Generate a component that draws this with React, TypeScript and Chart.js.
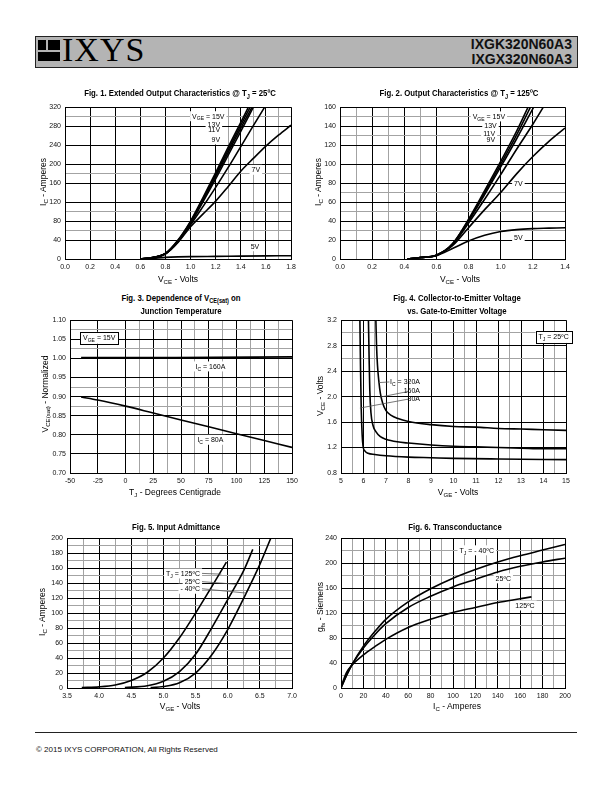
import React, { useEffect, useRef } from "react";
import { Chart, registerables } from "chart.js";

Chart.register(...registerables);

const FONT = '"Liberation Sans", Arial, Helvetica, sans-serif';

// ---------------- Fig. 1 : Extended Output Characteristics @ 25C ----------------
const fig1XTicks = [0, 0.2, 0.4, 0.6, 0.8, 1.0, 1.2, 1.4, 1.6, 1.8];
const fig1XMinor = [1.3, 1.5, 1.7];
const fig1YTicks = [0, 40, 80, 120, 160, 200, 240, 280, 320];
const fig1YMinor = [60, 100, 180, 300];
const fig1Vce15 = [0.6, 0.7, 0.8, 0.9, 1.0, 1.1, 1.2, 1.3, 1.4, 1.46];
const fig1Ic15 = [0, 3, 12, 40, 80, 130, 182, 236, 288, 320];
const fig1Vce13 = [0.6, 0.7, 0.8, 0.9, 1.0, 1.1, 1.2, 1.3, 1.4, 1.475];
const fig1Ic13 = [0, 3, 12, 39, 78, 127, 178, 230, 282, 320];
const fig1Vce11 = [0.6, 0.7, 0.8, 0.9, 1.0, 1.1, 1.2, 1.3, 1.4, 1.49];
const fig1Ic11 = [0, 3, 11, 38, 77, 124, 174, 225, 276, 320];
const fig1Vce10 = [0.6, 0.7, 0.8, 0.9, 1.0, 1.1, 1.2, 1.3, 1.4, 1.5];
const fig1Ic10 = [0, 3, 11, 37, 75, 121, 169, 219, 269, 320];
const fig1Vce9 = [0.6, 0.7, 0.8, 0.9, 1.0, 1.1, 1.2, 1.3, 1.4, 1.5, 1.59];
const fig1Ic9 = [0, 3, 11, 36, 72, 111, 151, 193, 237, 281, 320];
const fig1Vce7 = [0.6, 0.7, 0.8, 0.9, 1.0, 1.1, 1.2, 1.3, 1.4, 1.5, 1.6, 1.7, 1.8];
const fig1Ic7 = [0, 3, 11, 35, 68, 95, 122, 153, 185, 212, 238, 261, 282];
const fig1Vce5 = [0.6, 0.7, 0.8, 0.9, 1.0, 1.2, 1.4, 1.6, 1.8];
const fig1Ic5 = [0, 1.5, 3.5, 4.5, 5, 5.5, 6, 6.5, 7];

// ---------------- Fig. 2 : Output Characteristics @ 125C ----------------
const fig2XTicks = [0, 0.2, 0.4, 0.6, 0.8, 1.0, 1.2, 1.4];
const fig2XMinor = [0.1, 0.3, 0.5];
const fig2YTicks = [0, 20, 40, 60, 80, 100, 120, 140, 160];
const fig2YMinor = [30, 50, 70, 130, 150];
const fig2Vce15 = [0.42, 0.5, 0.6, 0.7, 0.8, 0.9, 1.0, 1.1, 1.17];
const fig2Ic15 = [0, 1.5, 4, 16, 42, 72, 103, 135, 160];
const fig2Vce13 = [0.42, 0.5, 0.6, 0.7, 0.8, 0.9, 1.0, 1.1, 1.185];
const fig2Ic13 = [0, 1.5, 4, 16, 41, 70, 100, 131, 160];
const fig2Vce11 = [0.42, 0.5, 0.6, 0.7, 0.8, 0.9, 1.0, 1.1, 1.205];
const fig2Ic11 = [0, 1.5, 4, 15, 40, 68, 97, 127, 160];
const fig2Vce9 = [0.42, 0.5, 0.6, 0.7, 0.8, 0.9, 1.0, 1.1, 1.2, 1.265];
const fig2Ic9 = [0, 1.5, 4, 15, 38, 63, 89, 116, 142, 160];
const fig2Vce7 = [0.42, 0.5, 0.6, 0.7, 0.8, 0.9, 1.0, 1.1, 1.2, 1.3, 1.4];
const fig2Ic7 = [0, 1.5, 4, 14, 33, 52, 70, 90, 108, 124, 138];
const fig2Vce5 = [0.42, 0.5, 0.6, 0.7, 0.8, 0.9, 1.0, 1.1, 1.2, 1.3, 1.4];
const fig2Ic5 = [0, 1.5, 3.5, 11, 19, 25, 29, 31, 32, 32.5, 33];

// ---------------- Fig. 3 : VCE(sat) vs junction temperature ----------------
const fig3XTicks = [-50, -25, 0, 25, 50, 75, 100, 125, 150];
const fig3XMinor = [12.5, 37.5, 62.5, 87.5, 112.5, 137.5];
const fig3YTicks = [0.7, 0.75, 0.8, 0.85, 0.9, 0.95, 1.0, 1.05, 1.1];
const fig3YMinor = [0.875, 0.925, 1.025, 1.075];
const fig3Tj160 = [-40, 45, 150];
const fig3Norm160 = [1.002, 1.002, 1.004];
const fig3Tj80 = [-40, -25, 0, 25, 50, 75, 100, 125, 150];
const fig3Norm80 = [0.899, 0.891, 0.875, 0.857, 0.839, 0.821, 0.803, 0.785, 0.767];

// ---------------- Fig. 4 : VCE vs VGE ----------------
const fig4XTicks = [5, 6, 7, 8, 9, 10, 11, 12, 13, 14, 15];
const fig4XMinor = [5.5, 6.5, 7.5, 10.5, 12.5, 14.5];
const fig4YTicks = [0.8, 1.2, 1.6, 2.0, 2.4, 2.8, 3.2];
const fig4YMinor = [2.6, 3.0];
const fig4Vge320 = [6.55, 6.58, 6.62, 6.68, 6.75, 6.85, 7.0, 7.25, 7.5, 8, 9, 10, 11, 12, 13, 14, 15];
const fig4Vce320 = [3.2, 2.8, 2.5, 2.25, 2.05, 1.9, 1.78, 1.7, 1.66, 1.61, 1.56, 1.53, 1.52, 1.5, 1.49, 1.48, 1.47];
const fig4Vge160 = [6.22, 6.25, 6.28, 6.33, 6.42, 6.55, 6.75, 7.0, 7.5, 8, 9, 10, 11, 12, 13, 14, 15];
const fig4Vce160 = [3.2, 2.6, 2.1, 1.75, 1.55, 1.45, 1.37, 1.33, 1.29, 1.27, 1.24, 1.22, 1.21, 1.2, 1.19, 1.18, 1.18];
const fig4Vge80 = [5.84, 5.87, 5.9, 5.94, 5.98, 6.05, 6.2, 6.5, 7, 8, 9, 10, 12, 15];
const fig4Vce80 = [3.2, 2.4, 1.8, 1.4, 1.22, 1.15, 1.11, 1.09, 1.07, 1.05, 1.04, 1.03, 1.02, 1.01];

// ---------------- Fig. 5 : Input Admittance ----------------
const fig5XTicks = [3.5, 4.0, 4.5, 5.0, 5.5, 6.0, 6.5, 7.0];
const fig5XMinor = [3.75, 4.25, 4.75, 5.25, 5.75, 6.25, 6.75];
const fig5YTicks = [0, 20, 40, 60, 80, 100, 120, 140, 160, 180, 200];
const fig5YMinor = [10, 30, 50, 70, 90, 110, 130, 150, 170, 190];
const fig5Vge125 = [3.73, 4.0, 4.25, 4.5, 4.75, 5.0, 5.25, 5.5, 5.75, 5.98];
const fig5Ic125 = [0.5, 1.5, 4, 10, 21, 40, 67, 100, 135, 168];
const fig5Vge25 = [4.4, 4.75, 5.0, 5.25, 5.5, 5.75, 6.0, 6.25, 6.39];
const fig5Ic25 = [0.5, 3, 9, 22, 45, 80, 118, 157, 185];
const fig5VgeM40 = [4.8, 5.0, 5.25, 5.5, 5.75, 6.0, 6.25, 6.5, 6.67];
const fig5IcM40 = [0.5, 2, 7, 20, 44, 78, 120, 165, 200];

// ---------------- Fig. 6 : Transconductance ----------------
const fig6XTicks = [0, 20, 40, 60, 80, 100, 120, 140, 160, 180, 200];
const fig6XMinor = [10, 30, 50, 70, 90, 110, 130, 150, 170, 190];
const fig6YTicks = [0, 40, 80, 120, 160, 200, 240];
const fig6YMinor = [20, 60, 100, 140, 180, 220];
const fig6IcM40 = [0, 5, 10, 20, 30, 40, 60, 80, 100, 120, 140, 160, 180, 200];
const fig6GfsM40 = [0, 20, 38, 67, 90, 110, 138, 159, 176, 190, 202, 212, 221, 230];
const fig6Ic25 = [0, 5, 10, 20, 30, 40, 60, 80, 100, 120, 140, 160, 180, 200];
const fig6Gfs25 = [0, 21, 38, 64, 85, 103, 129, 147, 162, 174, 186, 195, 202, 208];
const fig6Ic125 = [0, 5, 10, 20, 30, 40, 60, 80, 100, 120, 140, 160, 170];
const fig6Gfs125 = [2, 25, 37, 53, 66, 78, 97, 110, 121, 129, 137, 143, 146];

// ---------------- types & helpers ----------------
type Axis = { ticks: number[]; minor: number[]; dec: number };
type Series = { name: string; xs: number[]; ys: number[]; straight?: boolean };
type Label = { x: number; y: number; text: string; align?: "left" | "center" | "right"; bg?: boolean; box?: boolean };
type Panel = {
  plot: { left: number; top: number; width: number; height: number };
  x: Axis;
  y: Axis;
  series: Series[];
  labels: Label[];
  leaders: number[][];
};

function parseRich(s: string) {
  const out: { t: string; sub: boolean }[] = [];
  const re = /_\{([^}]*)\}/g;
  let last = 0;
  let m: RegExpExecArray | null;
  while ((m = re.exec(s))) {
    if (m.index > last) out.push({ t: s.slice(last, m.index), sub: false });
    out.push({ t: m[1], sub: true });
    last = re.lastIndex;
  }
  if (last < s.length) out.push({ t: s.slice(last), sub: false });
  return out;
}

const cfont = (size: number) => `${size}px ${FONT}`;
const LBL = 7;

function richWidth(ctx: CanvasRenderingContext2D, text: string, size: number) {
  let w = 0;
  for (const p of parseRich(text)) {
    ctx.font = cfont(p.sub ? size * 0.72 : size);
    w += ctx.measureText(p.t).width;
  }
  return w;
}

function drawRich(ctx: CanvasRenderingContext2D, text: string, x0: number, yc: number, size: number) {
  let x = x0;
  const base = yc + size * 0.35;
  ctx.textBaseline = "alphabetic";
  ctx.textAlign = "left";
  ctx.fillStyle = "#000";
  for (const p of parseRich(text)) {
    const s = p.sub ? size * 0.72 : size;
    ctx.font = cfont(s);
    ctx.fillText(p.t, x, p.sub ? base + size * 0.25 : base);
    x += ctx.measureText(p.t).width;
  }
}

function labelRect(chart: any, ctx: CanvasRenderingContext2D, l: Label) {
  const w = richWidth(ctx, l.text, LBL);
  const px = chart.scales.x.getPixelForValue(l.x);
  const py = chart.scales.y.getPixelForValue(l.y);
  const x0 = l.align === "left" ? px : l.align === "right" ? px - w : px - w / 2;
  return { x0, py, w };
}

function makeAnnot(spec: Panel) {
  return {
    id: "annot",
    beforeDatasetsDraw(chart: any) {
      const ctx: CanvasRenderingContext2D = chart.ctx;
      ctx.save();
      for (const l of spec.labels) {
        if (!l.bg) continue;
        const r = labelRect(chart, ctx, l);
        ctx.fillStyle = "#fff";
        ctx.fillRect(r.x0 - 2, r.py - 5, r.w + 4, 10);
      }
      ctx.restore();
    },
    afterDatasetsDraw(chart: any) {
      const ctx: CanvasRenderingContext2D = chart.ctx;
      const xs = chart.scales.x;
      const ys = chart.scales.y;
      ctx.save();
      ctx.strokeStyle = "#555";
      ctx.lineWidth = 0.8;
      for (const ld of spec.leaders) {
        ctx.beginPath();
        ctx.moveTo(xs.getPixelForValue(ld[0]), ys.getPixelForValue(ld[1]));
        ctx.lineTo(xs.getPixelForValue(ld[2]), ys.getPixelForValue(ld[3]));
        ctx.stroke();
      }
      for (const l of spec.labels) {
        const r = labelRect(chart, ctx, l);
        if (l.box) {
          ctx.fillStyle = "#fff";
          ctx.fillRect(r.x0 - 3, r.py - 6, r.w + 6, 12);
          ctx.strokeStyle = "#000";
          ctx.lineWidth = 1;
          ctx.strokeRect(Math.round(r.x0 - 3) + 0.5, Math.round(r.py - 6) + 0.5, Math.round(r.w + 6), 12);
        }
        drawRich(ctx, l.text, r.x0, r.py, LBL);
      }
      ctx.restore();
    },
  };
}

function axisOpts(a: Axis, dir: "x" | "y", size: number) {
  const isMajor = (v: number) => a.ticks.some((t) => Math.abs(t - v) < 1e-9);
  const all = [...a.ticks, ...a.minor].sort((p, q) => p - q);
  return {
    type: "linear",
    min: a.ticks[0],
    max: a.ticks[a.ticks.length - 1],
    afterBuildTicks: (s: any) => {
      s.ticks = all.map((v) => ({ value: v }));
    },
    afterFit: (s: any) => {
      if (dir === "x") s.height = size;
      else s.width = size;
    },
    grid: {
      color: (c: any) => (c.tick && isMajor(c.tick.value) ? "#000" : "#a3a3a3"),
      lineWidth: 1,
      drawTicks: false,
    },
    border: { color: "#000", width: 1 },
    ticks: {
      autoSkip: false,
      maxRotation: 0,
      minRotation: 0,
      padding: 4,
      color: "#111",
      font: { family: FONT, size: 7 },
      callback: (v: any) => (isMajor(Number(v)) ? Number(v).toFixed(a.dec) : ""),
    },
  };
}

const PADL = 36;
const PADT = 6;
const PADR = 10;
const PADB = 16;

function ChartPanel({ spec }: { spec: Panel }) {
  const ref = useRef<HTMLCanvasElement>(null);
  const w = spec.plot.width + PADL + PADR;
  const h = spec.plot.height + PADT + PADB;
  useEffect(() => {
    const chart = new Chart(ref.current as HTMLCanvasElement, {
      type: "line",
      data: {
        datasets: spec.series.map((s) => ({
          label: s.name,
          data: s.xs.map((x, i) => ({ x, y: s.ys[i] })),
          borderColor: "#000",
          borderWidth: 1.6,
          pointRadius: 0,
          fill: false,
          cubicInterpolationMode: s.straight ? "default" : "monotone",
          tension: 0,
        })),
      },
      options: {
        animation: false,
        responsive: false,
        maintainAspectRatio: false,
        events: [],
        layout: { padding: { left: 0, top: PADT, right: PADR, bottom: 0 } },
        plugins: { legend: { display: false }, tooltip: { enabled: false } },
        scales: {
          x: axisOpts(spec.x, "x", PADB),
          y: axisOpts(spec.y, "y", PADL),
        },
      } as any,
      plugins: [makeAnnot(spec) as any],
    } as any);
    return () => chart.destroy();
  }, [spec]);
  return (
    <canvas
      ref={ref}
      width={w}
      height={h}
      style={{ position: "absolute", left: spec.plot.left - PADL, top: spec.plot.top - PADT, width: w, height: h }}
    />
  );
}

function Rich({ text, size }: { text: string; size: number }) {
  return (
    <>
      {parseRich(text).map((p, i) =>
        p.sub ? (
          <span key={i} style={{ fontSize: size * 0.72, position: "relative", top: size * 0.28 }}>
            {p.t}
          </span>
        ) : (
          <span key={i}>{p.t}</span>
        )
      )}
    </>
  );
}

function Txt(props: { x: number; y: number; text: string; size: number; bold?: boolean; rot?: boolean; sx?: number }) {
  const { x, y, text, size, bold, rot, sx } = props;
  const tf = `translate(-50%,-50%)${rot ? " rotate(-90deg)" : ""}${sx ? ` scaleX(${sx})` : ""}`;
  return (
    <div
      style={{
        position: "absolute",
        left: x,
        top: y,
        transform: tf,
        whiteSpace: "nowrap",
        fontFamily: FONT,
        fontSize: size,
        fontWeight: bold ? 700 : 400,
        lineHeight: 1,
        color: "#000",
      }}
    >
      <Rich text={text} size={size} />
    </div>
  );
}

// ---------------- panel specs ----------------
const fig1: Panel = {
  plot: { left: 65, top: 105, width: 226, height: 154 },
  x: { ticks: fig1XTicks, minor: fig1XMinor, dec: 1 },
  y: { ticks: fig1YTicks, minor: fig1YMinor, dec: 0 },
  series: [
    { name: "15V", xs: fig1Vce15, ys: fig1Ic15 },
    { name: "13V", xs: fig1Vce13, ys: fig1Ic13 },
    { name: "11V", xs: fig1Vce11, ys: fig1Ic11 },
    { name: "10V", xs: fig1Vce10, ys: fig1Ic10 },
    { name: "9V", xs: fig1Vce9, ys: fig1Ic9 },
    { name: "7V", xs: fig1Vce7, ys: fig1Ic7 },
    { name: "5V", xs: fig1Vce5, ys: fig1Ic5 },
  ],
  labels: [
    { x: 1.27, y: 301, text: "V_{GE} = 15V", align: "right", bg: true },
    { x: 1.235, y: 284, text: "13V", align: "right", bg: true },
    { x: 1.235, y: 272, text: "11V", align: "right", bg: true },
    { x: 1.235, y: 252, text: "9V", align: "right", bg: true },
    { x: 1.52, y: 188, text: "7V", bg: true },
    { x: 1.513, y: 27, text: "5V", bg: true },
  ],
  leaders: [],
};

const fig2: Panel = {
  plot: { left: 340, top: 105, width: 225, height: 154 },
  x: { ticks: fig2XTicks, minor: fig2XMinor, dec: 1 },
  y: { ticks: fig2YTicks, minor: fig2YMinor, dec: 0 },
  series: [
    { name: "15V", xs: fig2Vce15, ys: fig2Ic15 },
    { name: "13V", xs: fig2Vce13, ys: fig2Ic13 },
    { name: "11V", xs: fig2Vce11, ys: fig2Ic11 },
    { name: "9V", xs: fig2Vce9, ys: fig2Ic9 },
    { name: "7V", xs: fig2Vce7, ys: fig2Ic7 },
    { name: "5V", xs: fig2Vce5, ys: fig2Ic5 },
  ],
  labels: [
    { x: 1.027, y: 150.3, text: "V_{GE} = 15V", align: "right", bg: true },
    { x: 0.975, y: 140.3, text: "13V", align: "right", bg: true },
    { x: 0.965, y: 132.3, text: "11V", align: "right", bg: true },
    { x: 0.965, y: 126.4, text: "9V", align: "right", bg: true },
    { x: 1.11, y: 79.3, text: "7V", bg: true },
    { x: 1.11, y: 22.5, text: "5V", bg: true },
  ],
  leaders: [],
};

const fig3: Panel = {
  plot: { left: 70, top: 318, width: 222, height: 155 },
  x: { ticks: fig3XTicks, minor: fig3XMinor, dec: 0 },
  y: { ticks: fig3YTicks, minor: fig3YMinor, dec: 2 },
  series: [
    { name: "IC = 160A", xs: fig3Tj160, ys: fig3Norm160, straight: true },
    { name: "IC = 80A", xs: fig3Tj80, ys: fig3Norm80 },
  ],
  labels: [
    { x: -23.7, y: 1.054, text: "V_{GE} = 15V", box: true },
    { x: 76.5, y: 0.979, text: "I_{C} = 160A", bg: true },
    { x: 76.5, y: 0.787, text: "I_{C} = 80A", bg: true },
  ],
  leaders: [],
};

const fig4: Panel = {
  plot: { left: 341, top: 318, width: 225, height: 155 },
  x: { ticks: fig4XTicks, minor: fig4XMinor, dec: 0 },
  y: { ticks: fig4YTicks, minor: fig4YMinor, dec: 1 },
  series: [
    { name: "IC = 320A", xs: fig4Vge320, ys: fig4Vce320 },
    { name: "IC = 160A", xs: fig4Vge160, ys: fig4Vce160 },
    { name: "IC = 80A", xs: fig4Vge80, ys: fig4Vce80 },
  ],
  labels: [
    { x: 8.51, y: 2.24, text: "I_{C} = 320A", align: "right" },
    { x: 8.51, y: 2.096, text: "160A", align: "right" },
    { x: 8.51, y: 1.972, text: "80A", align: "right" },
    { x: 14.45, y: 2.937, text: "T_{J} = 25ºC", box: true },
  ],
  leaders: [
    [6.69, 2.22, 7.15, 2.23],
    [7.98, 2.08, 6.72, 1.99],
    [7.98, 1.96, 5.84, 1.82],
  ],
};

const fig5: Panel = {
  plot: { left: 67, top: 536, width: 225, height: 152 },
  x: { ticks: fig5XTicks, minor: fig5XMinor, dec: 1 },
  y: { ticks: fig5YTicks, minor: fig5YMinor, dec: 0 },
  series: [
    { name: "125C", xs: fig5Vge125, ys: fig5Ic125 },
    { name: "25C", xs: fig5Vge25, ys: fig5Ic25 },
    { name: "-40C", xs: fig5VgeM40, ys: fig5IcM40 },
  ],
  labels: [
    { x: 5.57, y: 153, text: "T_{J} = 125ºC", align: "right", bg: true },
    { x: 5.57, y: 142, text: "25ºC", align: "right", bg: true },
    { x: 5.57, y: 132.5, text: "- 40ºC", align: "right", bg: true },
  ],
  leaders: [
    [5.6, 153, 5.9, 152],
    [5.6, 142, 6.13, 138.5],
    [5.6, 132.5, 6.29, 126.7],
  ],
};

const fig6: Panel = {
  plot: { left: 341, top: 536, width: 224, height: 152 },
  x: { ticks: fig6XTicks, minor: fig6XMinor, dec: 0 },
  y: { ticks: fig6YTicks, minor: fig6YMinor, dec: 0 },
  series: [
    { name: "-40C", xs: fig6IcM40, ys: fig6GfsM40 },
    { name: "25C", xs: fig6Ic25, ys: fig6Gfs25 },
    { name: "125C", xs: fig6Ic125, ys: fig6Gfs125 },
  ],
  labels: [
    { x: 121.2, y: 220.6, text: "T_{J} = - 40ºC", bg: true },
    { x: 144.9, y: 175.7, text: "25ºC", bg: true },
    { x: 164.3, y: 132.2, text: "125ºC", bg: true },
  ],
  leaders: [],
};

const TS = 9.5; // title size
const TSX = 0.82;
const AS = 8.5; // axis title size

export default function App() {
  return (
    <div style={{ position: "absolute", left: 0, top: 0, width: 612, height: 792, background: "#fff", overflow: "hidden" }}>
      {/* header */}
      <div style={{ position: "absolute", left: 35, top: 36, width: 541, height: 30, background: "#b4b4b4", border: "1px solid #222" }} />
      <div style={{ position: "absolute", left: 38, top: 40, width: 22, height: 21 }}>
        <div style={{ position: "absolute", left: 0, top: 0, width: 8, height: 10, background: "#000" }} />
        <div style={{ position: "absolute", left: 10, top: 0, width: 12, height: 10, background: "#000" }} />
        <div style={{ position: "absolute", left: 0, top: 12, width: 22, height: 9, background: "#000" }} />
      </div>
      <div style={{ position: "absolute", left: 62, top: 33, fontFamily: '"Liberation Serif", "Times New Roman", serif', fontSize: 34, lineHeight: "34px", letterSpacing: 1, color: "#000" }}>
        IXYS
      </div>
      <div style={{ position: "absolute", right: 40, top: 36.5, fontFamily: FONT, fontWeight: 700, fontSize: 14, lineHeight: "14px", textAlign: "right", color: "#111" }}>
        IXGK320N60A3
      </div>
      <div style={{ position: "absolute", right: 40, top: 51.5, fontFamily: FONT, fontWeight: 700, fontSize: 14, lineHeight: "14px", textAlign: "right", color: "#111" }}>
        IXGX320N60A3
      </div>

      {/* charts */}
      <ChartPanel spec={fig1} />
      <ChartPanel spec={fig2} />
      <ChartPanel spec={fig3} />
      <ChartPanel spec={fig4} />
      <ChartPanel spec={fig5} />
      <ChartPanel spec={fig6} />

      {/* titles */}
      <Txt x={180} y={93} text="Fig. 1. Extended Output Characteristics @ T_{J} = 25ºC" size={TS} bold sx={TSX} />
      <Txt x={459} y={93} text="Fig. 2. Output Characteristics @ T_{J} = 125ºC" size={TS} bold sx={TSX} />
      <Txt x={181} y={297.5} text="Fig. 3. Dependence of V_{CE(sat)} on" size={TS} bold sx={TSX} />
      <Txt x={181} y={310.5} text="Junction Temperature" size={TS} bold sx={TSX} />
      <Txt x={457} y={297.5} text="Fig. 4. Collector-to-Emitter Voltage" size={TS} bold sx={TSX} />
      <Txt x={457} y={310.5} text="vs. Gate-to-Emitter Voltage" size={TS} bold sx={TSX} />
      <Txt x={176} y={527} text="Fig. 5. Input Admittance" size={TS} bold sx={TSX} />
      <Txt x={455} y={527} text="Fig. 6. Transconductance" size={TS} bold sx={TSX} />

      {/* axis titles */}
      <Txt x={178} y={279} text="V_{CE} - Volts" size={AS} />
      <Txt x={43} y={182} text="I_{C} - Amperes" size={AS} rot />
      <Txt x={460} y={279} text="V_{CE} - Volts" size={AS} />
      <Txt x={318} y={182} text="I_{C} - Amperes" size={AS} rot />
      <Txt x={175} y={492} text="T_{J} - Degrees Centigrade" size={AS} />
      <Txt x={45} y={394} text="V_{CE(sat)} - Normalized" size={AS} rot />
      <Txt x={458} y={492} text="V_{GE} - Volts" size={AS} />
      <Txt x={320} y={396} text="V_{CE} - Volts" size={AS} rot />
      <Txt x={180} y={706} text="V_{GE} - Volts" size={AS} />
      <Txt x={42} y={612} text="I_{C} - Amperes" size={AS} rot />
      <Txt x={457} y={706} text="I_{C} - Amperes" size={AS} />
      <Txt x={320} y={607} text="g_{fs} - Siemens" size={AS} rot />

      {/* footer */}
      <div style={{ position: "absolute", left: 35, top: 732, width: 542, height: 1, background: "#222" }} />
      <div style={{ position: "absolute", left: 36, top: 746, fontFamily: FONT, fontSize: 8, lineHeight: "8px", color: "#111", whiteSpace: "nowrap" }}>
        © 2015 IXYS CORPORATION, All Rights Reserved
      </div>
    </div>
  );
}
